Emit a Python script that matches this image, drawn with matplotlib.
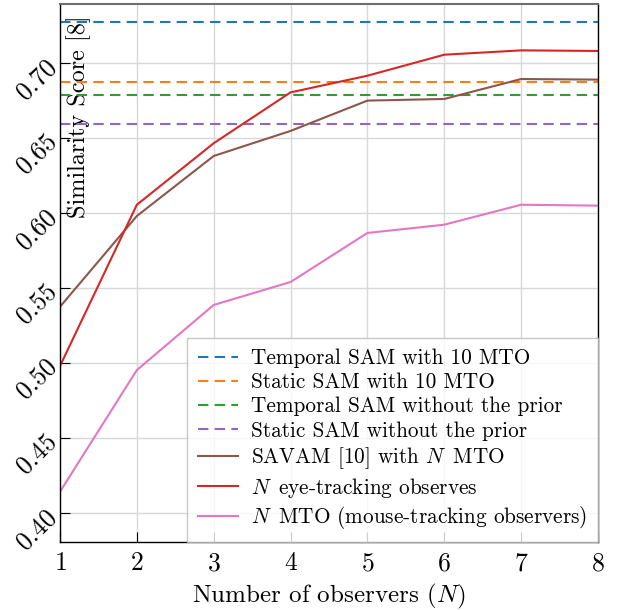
import matplotlib
matplotlib.use("Agg")
import matplotlib.pyplot as plt

plt.rcParams['font.family'] = ['cmr10', 'DejaVu Serif']
plt.rcParams['mathtext.fontset'] = 'cm'
plt.rcParams['axes.formatter.use_mathtext'] = True

# observers N
n_obs = [1, 2, 3, 4, 5, 6, 7, 8]

# constant baselines
temporal_sam_10 = 0.7275
static_sam_10 = 0.6873
temporal_sam_noprior = 0.6787
static_sam_noprior = 0.6590

# curves
savam = [0.5375, 0.598, 0.638, 0.6547, 0.6749, 0.676, 0.6893, 0.6889]
eye_tracking = [0.498, 0.6055, 0.6465, 0.6804, 0.6915, 0.7055, 0.7084, 0.708]
mto = [0.4142, 0.4953, 0.5387, 0.554, 0.5867, 0.5922, 0.6055, 0.6049]

y_ticks = [0.40, 0.45, 0.50, 0.55, 0.60, 0.65, 0.70]

fig = plt.figure(figsize=(6.17, 6.10), dpi=100)
ax = fig.add_axes([60 / 617, 68 / 610, 538 / 617, 538 / 610])

dash = (5, 3)
ax.axhline(temporal_sam_10, color='#1f77b4', lw=1.5, dashes=dash, label='Temporal SAM with 10 MTO')
ax.axhline(static_sam_10, color='#ff7f0e', lw=1.5, dashes=dash, label='Static SAM with 10 MTO')
ax.axhline(temporal_sam_noprior, color='#2ca02c', lw=1.5, dashes=dash, label='Temporal SAM without the prior')
ax.axhline(static_sam_noprior, color='#9467bd', lw=1.5, dashes=dash, label='Static SAM without the prior')
ax.plot(n_obs, savam, color='#8c564b', lw=1.5, label='SAVAM [10] with $N\\,$ MTO')
ax.plot(n_obs, eye_tracking, color='#d62728', lw=1.5, label='$N\\,$ eye-tracking observes')
ax.plot(n_obs, mto, color='#e377c2', lw=1.5, label='$N\\,$ MTO (mouse-tracking observers)')

ax.set_xlim(1, 8)
ax.set_ylim(0.3807, 0.7393)
ax.set_xticks(n_obs)
ax.set_yticks(y_ticks)
ax.set_yticklabels([f"{v:.2f}" for v in y_ticks], rotation=45, va='center',
                   ha='right', rotation_mode='anchor')
ax.tick_params(direction='in', length=7, labelsize=18.5, width=0.8)
ax.tick_params(axis='x', pad=7)
ax.tick_params(axis='y', pad=5)
ax.grid(True, color='#d8d8d8', lw=1.0)
ax.set_axisbelow(True)

for side in ['left', 'bottom', 'right']:
    ax.spines[side].set_color('black')
    ax.spines[side].set_linewidth(1.0)
ax.spines['top'].set_color('#6e6e6e')
ax.spines['top'].set_linewidth(1.5)

ax.set_xlabel('Number of observers ($N$)', fontsize=18, labelpad=5)
ax.set_ylabel('Similarity Score [8]', fontsize=17.5)
ax.yaxis.set_label_coords(0.058, 0.79)

leg = ax.legend(loc='lower right', borderaxespad=0, fontsize=15.3, fancybox=False,
                framealpha=0.8, edgecolor='#bbbbbb', handlelength=1.9,
                handletextpad=0.6, labelspacing=0.22, borderpad=0.5)
leg.get_frame().set_linewidth(1.0)

fig.savefig('out.png', dpi=100)
